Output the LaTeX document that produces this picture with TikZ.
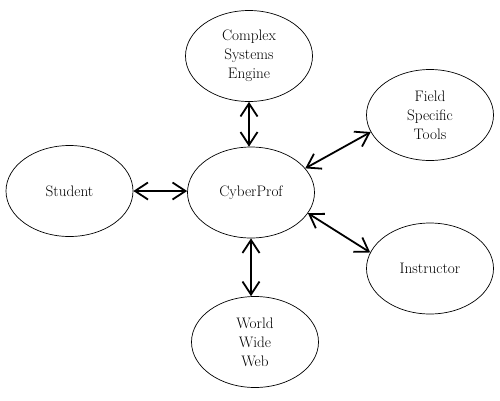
\documentclass[tikz,border=0pt]{standalone}
\usetikzlibrary{arrows.meta,shapes.geometric}
\begin{document}
\begin{tikzpicture}[x=1pt,y=-1pt,
  bubble/.style={ellipse,draw,line width=0.7pt,inner sep=0pt,minimum width=127pt,minimum height=91pt,
    align=center,font=\fontsize{15.2}{19}\selectfont},
  link/.style={line width=1.8pt,{Straight Barb[length=13pt,width=17pt]}-{Straight Barb[length=13pt,width=17pt]}}]
\useasboundingbox (0,0) rectangle (500,400);
\node[bubble] (eng) at (249,56) {Complex\\Systems\\Engine};
\node[bubble] (fst) at (430,115) {Field\\Specific\\Tools};
\node[bubble] (stu) at (69.5,191) {Student};
\node[bubble] (cp) at (251,192.5) {CyberProf};
\node[bubble] (ins) at (430,268.5) {Instructor};
\node[bubble] (www) at (255,342) {World\\Wide\\Web};
\draw[link] (eng.south) -- (eng.south |- cp.north);
\draw[link] (stu.east) -- (stu.east -| cp.west);
\draw[link] (cp.24) -- (fst.196);
\draw[link] (cp.340) -- (ins.165);
\draw[link] (cp.south) -- (cp.south |- www.north);
\end{tikzpicture}
\end{document}
